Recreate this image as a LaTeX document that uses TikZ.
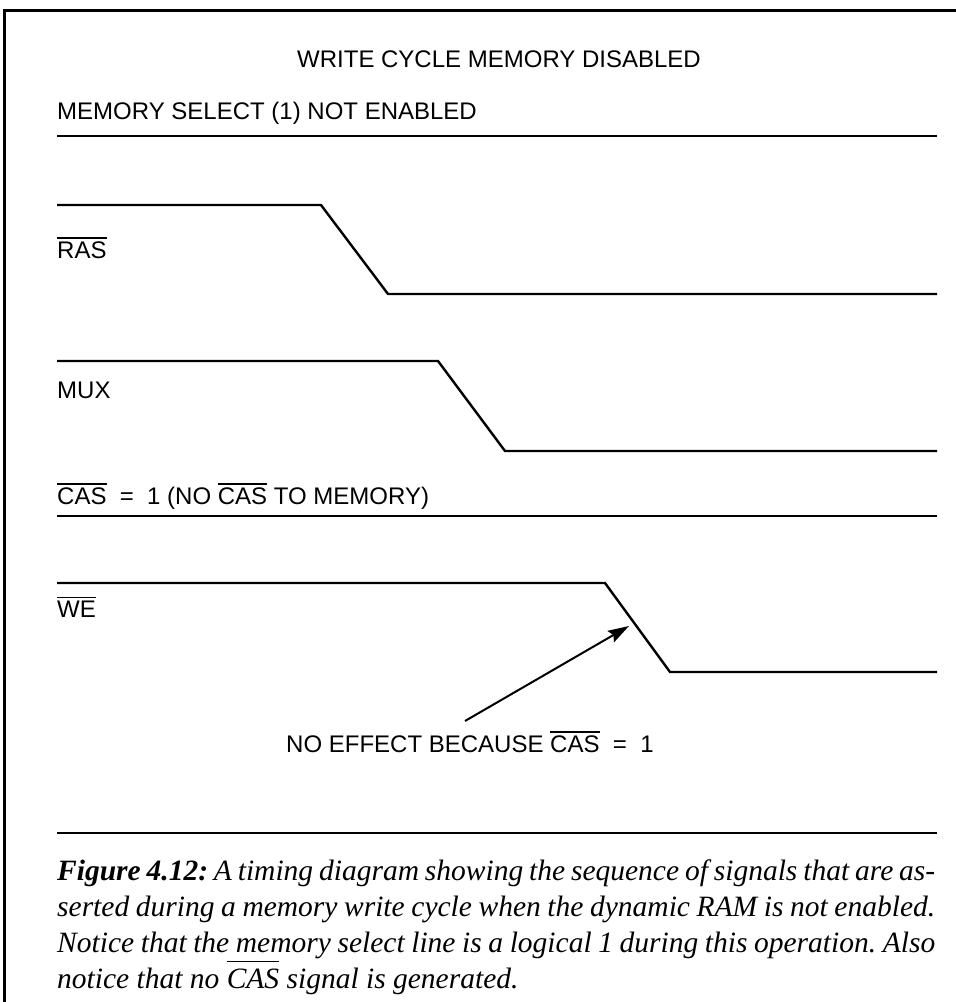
\documentclass[tikz,border=0pt]{standalone}
\usepackage{fontspec}
\setmainfont{Liberation Serif}
\newfontfamily\lblfont{Liberation Sans}
\usetikzlibrary{arrows.meta}
\newcommand\ovl[1]{\leavevmode\vbox{\hrule height 1.3pt\kern 2.5pt\hbox{#1}}}
\newcommand\ovlhi[1]{\leavevmode\vbox{\hrule height 1.4pt\kern 6pt\hbox{#1}}}
\begin{document}
\frenchspacing
\begin{tikzpicture}[x=1pt,y=-1pt,
  sig/.style={line width=2.4pt, line join=miter},
  frame/.style={line width=3pt},
  lbl/.style={font=\lblfont\fontsize{24}{28}\selectfont, inner sep=0pt, anchor=base west},
  capline/.style={font=\itshape\fontsize{29.5}{34}\selectfont, inner sep=0pt, anchor=base west},
  pointer/.style={line width=2pt, -{Stealth[length=21pt,width=13pt,inset=3pt]}}]
\useasboundingbox (0,0) rectangle (956,1002);
\fill[white] (0,0) rectangle (956,1002);
% frame
\coordinate (fbl) at (4,1002);
\coordinate (ftl) at (4,10);
\coordinate (ftr) at (956,10);
\draw[frame] (fbl) -- (ftl) -- (ftr);
% title and labels
\node[lbl, anchor=base] (title) at (499,67) {WRITE CYCLE MEMORY DISABLED};
\node[lbl] (ms) at (57,119) {MEMORY SELECT (1) NOT ENABLED};
\node[lbl] (ras) at (57,258) {\ovl{RAS}};
\node[lbl] (mux) at (57,398) {MUX};
\node[lbl] (cas) at (57,504) {\ovl{CAS}\ \ =\ \ 1 (NO \ovl{CAS} TO MEMORY)};
\node[lbl] (we) at (57,617) {\ovl{WE}};
\node[lbl] (note) at (286,752) {NO EFFECT BECAUSE \ovl{CAS}\ \ =\ \ 1};
% signal waveforms
\coordinate (ms0) at (57,136);  \coordinate (ms1) at (937,136);
\draw[sig] (ms0) -- (ms1);
\coordinate (ras0) at (57,205); \coordinate (ras1) at (321,205);
\coordinate (ras2) at (388,294); \coordinate (ras3) at (937,294);
\draw[sig] (ras0) -- (ras1) -- (ras2) -- (ras3);
\coordinate (mux0) at (57,361); \coordinate (mux1) at (438,361);
\coordinate (mux2) at (505,451); \coordinate (mux3) at (937,451);
\draw[sig] (mux0) -- (mux1) -- (mux2) -- (mux3);
\coordinate (cas0) at (57,516); \coordinate (cas1) at (937,516);
\draw[sig] (cas0) -- (cas1);
\coordinate (we0) at (57,583); \coordinate (we1) at (605,583);
\coordinate (we2) at (670,672); \coordinate (we3) at (937,672);
\draw[sig] (we0) -- (we1) -- (we2) -- (we3);
% annotation arrow
\coordinate (tail) at (465,721);
\coordinate (tip) at (629,626);
\draw[pointer] (tail) -- (tip);
% separator
\coordinate (sep0) at (57,833); \coordinate (sep1) at (937,833);
\draw[line width=2pt] (sep0) -- (sep1);
% caption
\node[capline] (c1) at (57,880) {\makebox[878pt][s]{\textbf{Figure 4.12:} A timing diagram showing the sequence of signals that are as-}};
\node[capline] (c2) at (57,916) {\makebox[878pt][s]{serted during a memory write cycle when the dynamic RAM is not enabled.}};
\node[capline] (c3) at (57,952) {\makebox[878pt][s]{Notice that the memory select line is a logical 1 during this operation. Also}};
\node[capline] (c4) at (57,988) {notice that no \ovlhi{CAS} signal is generated.};
\end{tikzpicture}
\end{document}
